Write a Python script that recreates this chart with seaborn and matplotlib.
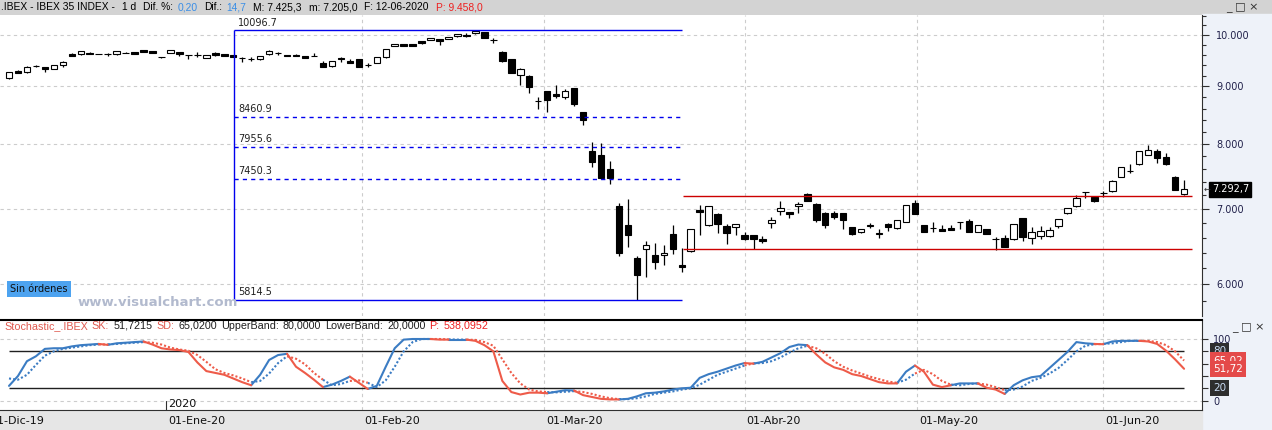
import numpy as np
import pandas as pd
import matplotlib
matplotlib.use("Agg")
import matplotlib.pyplot as plt
import seaborn as sns
from matplotlib.patches import Rectangle
from matplotlib.ticker import FixedLocator, FuncFormatter, NullFormatter

sns.set_style("white")
plt.rcParams["font.family"] = ["DejaVu Sans"]

W, H = 1272, 430

# trading calendar (Madrid exchange holidays removed)
holidays = ["2019-12-25", "2019-12-26", "2020-01-01", "2020-04-10", "2020-04-13", "2020-05-01"]
all_days = pd.bdate_range("2019-11-25", "2020-06-12")
all_days = all_days[~all_days.isin(pd.to_datetime(holidays))]
first_day = pd.Timestamp("2019-12-04")
start = int(np.where(all_days == first_day)[0][0])
dates = all_days[start:]

# IBEX 35 daily candles
opens = [9151, 9283, 9264, 9375, 9359, 9321, 9404, 9612, 9612, 9637,
         9620, 9610, 9612, 9645, 9652, 9691, 9671, 9560, 9631, 9652,
         9600, 9602, 9540, 9637, 9612, 9598, 9547, 9518, 9514, 9612,
         9645, 9604, 9604, 9578, 9580, 9449, 9390, 9546, 9482, 9520,
         9400, 9449, 9552, 9771, 9817, 9817, 9872, 9892, 9912, 9912,
         9973, 10000, 10035, 10055, 9888, 9657, 9515, 9207, 9194, 8730,
         8916, 8861, 8812, 8965, 8536, 7885, 7820, 7600, 7044, 6775,
         6333, 6447, 6368, 6370, 6648, 6242, 6429, 6987, 6779, 6926,
         6755, 6743, 6638, 6638, 6584, 6807, 6978, 6958, 7050, 7215,
         7074, 6945, 6945, 6941, 6743, 6684, 6765, 6656, 6789, 6729,
         6821, 7084, 6771, 6733, 6725, 6735, 6815, 6830, 6680, 6717,
         6578, 6598, 6580, 6869, 6599, 6620, 6620, 6765, 6940, 7040,
         7247, 7175, 7234, 7260, 7480, 7562, 7673, 7821, 7885, 7784,
         7480, 7220]
highs = [9270, 9314, 9375, 9404, 9362, 9408, 9472, 9643, 9675, 9663,
         9625, 9637, 9675, 9650, 9656, 9695, 9675, 9562, 9695, 9664,
         9602, 9652, 9602, 9664, 9616, 9602, 9550, 9552, 9582, 9697,
         9648, 9608, 9610, 9582, 9631, 9476, 9480, 9550, 9514, 9525,
         9437, 9562, 9715, 9821, 9821, 9821, 9876, 9936, 9916, 9957,
         10018, 10035, 10096.7, 10060, 9945, 9677, 9520, 9346, 9212, 8812,
         8920, 9020, 8947, 8970, 8540, 8027, 8011, 7725, 7088, 7147,
         6363, 6554, 6527, 6505, 6775, 6465, 6720, 7055, 7045, 6945,
         6790, 6790, 6675, 6642, 6629, 6883, 7113, 6962, 7107, 7230,
         7093, 6963, 6977, 6945, 6747, 6721, 6799, 6721, 6799, 6845,
         7060, 7132, 6775, 6813, 6775, 6770, 6817, 6855, 6781, 6721,
         6607, 6633, 6789, 6873, 6751, 6757, 6751, 6860, 7015, 7205,
         7250, 7180, 7265, 7423, 7630, 7672, 7884, 7982, 7913, 7857,
         7484, 7425.3]
lows = [9145, 9250, 9260, 9372, 9264, 9318, 9371, 9575, 9608, 9620,
        9610, 9584, 9608, 9638, 9620, 9660, 9628, 9540, 9628, 9584,
        9520, 9558, 9535, 9578, 9580, 9555, 9468, 9488, 9510, 9608,
        9598, 9574, 9572, 9535, 9574, 9365, 9366, 9468, 9445, 9367,
        9371, 9445, 9548, 9767, 9779, 9779, 9817, 9888, 9803, 9908,
        9969, 9968, 10030, 9940, 9837, 9468, 9250, 9031, 8885, 8597,
        8546, 8793, 8766, 8646, 8321, 7635, 7446, 7374, 6363, 6481,
        5814.5, 6095, 6187, 6240, 6389, 6158, 6416, 6643, 6765, 6670,
        6521, 6643, 6571, 6450, 6527, 6740, 6920, 6876, 6945, 7118,
        6813, 6740, 6855, 6725, 6644, 6666, 6729, 6593, 6687, 6725,
        6817, 6930, 6680, 6684, 6690, 6707, 6725, 6674, 6676, 6653,
        6438, 6477, 6576, 6562, 6515, 6588, 6616, 6737, 6936, 7036,
        7157, 7109, 7182, 7256, 7476, 7543, 7669, 7817, 7698, 7657,
        7275, 7205.0]
closes = [9264, 9257, 9371, 9380, 9333, 9404, 9468, 9578, 9671, 9624,
          9616, 9614, 9671, 9641, 9624, 9664, 9631, 9555, 9691, 9618,
          9596, 9606, 9598, 9598, 9584, 9558, 9543, 9522, 9578, 9677,
          9641, 9578, 9578, 9540, 9576, 9371, 9476, 9520, 9449, 9371,
          9404, 9558, 9711, 9817, 9783, 9783, 9843, 9932, 9884, 9953,
          10014, 9973, 10082, 9945, 9892, 9487, 9257, 9321, 8994, 8738,
          8758, 8830, 8916, 8687, 8397, 7714, 7465, 7455, 6402, 6643,
          6120, 6500, 6285, 6400, 6454, 6221, 6717, 6954, 7040, 6793,
          6670, 6785, 6589, 6589, 6558, 6845, 7015, 6930, 7078, 7122,
          6845, 6779, 6894, 6849, 6648, 6717, 6769, 6660, 6741, 6841,
          7055, 6934, 6684, 6737, 6694, 6711, 6811, 6684, 6777, 6657,
          6582, 6481, 6785, 6615, 6684, 6694, 6707, 6855, 7011, 7164,
          7243, 7113, 7238, 7419, 7626, 7566, 7880, 7896, 7768, 7678,
          7278, 7292.7]

# stochastic %K (solid) and %D (dotted)
sk = [24, 40, 64, 72, 84, 85, 85, 88, 90, 91,
      92, 90.5, 93, 94, 95, 96, 91, 85, 83, 82,
      79, 62, 48, 45, 42, 36, 30, 25, 42, 66,
      74, 76, 55, 45, 34, 22, 26, 32, 39, 29,
      19, 24, 55, 85, 99, 100, 100, 100, 99, 99,
      99, 99, 97, 90, 80, 32, 14, 10, 13, 13,
      12, 14.5, 17, 16.5, 9, 6, 3, 2, 2, 3,
      7, 12, 13, 15, 18, 20, 21, 37, 43, 47,
      52, 57, 61, 60, 63, 70, 77, 87, 91, 90,
      75, 62, 54, 50, 43, 40, 35, 30, 28, 28,
      47, 57, 47, 26, 22, 25, 28, 28, 28, 21,
      18, 11, 25, 33, 38, 40, 53, 66, 79, 95,
      93, 92, 91.5, 96, 97, 97, 97, 96, 92, 81,
      67, 51.72]
sd = [36, 34, 42, 58, 73, 80, 84, 86, 88, 90,
      91, 91.3, 92, 93, 94, 95, 94, 91, 86, 83,
      81, 74, 63, 51, 45, 41, 36, 30, 32, 44,
      61, 72, 68, 59, 45, 34, 25, 27, 32, 33,
      29, 22, 33, 55, 80, 95, 100, 100, 100, 99.5,
      99, 99, 98.5, 95, 89, 67, 45, 28, 18, 15,
      14, 13.5, 14.5, 15.5, 14, 11, 7, 4, 2.5, 2.5,
      4, 7, 11, 13, 15, 18, 20, 26, 34, 42,
      47, 52, 57, 60.5, 61, 64, 70, 78, 85, 89,
      85, 76, 64, 55, 49, 44, 39, 35, 31, 29,
      34, 44, 50, 43, 32, 26, 25, 27, 28, 26,
      22, 17, 18, 23, 32, 37, 44, 53, 66, 80,
      89, 91.5, 92, 93, 95, 97, 97, 97, 95, 90,
      80, 65.02]

fib_levels = [10096.7, 8460.9, 7955.6, 7450.3, 5814.5]
fib_span = (25.1, 75.0)
sr_levels = [7195, 6450]
sr_span = (75.1, 131.9)

month_names = {12: "Dic", 1: "Ene", 2: "Feb", 3: "Mar", 4: "Abr", 5: "May", 6: "Jun"}

# ---------------------------------------------------------------
n = len(closes)
x = np.arange(n)
O, Hh, L, C = map(np.asarray, (opens, highs, lows, closes))

day_ord = np.array([d.toordinal() for d in all_days])
month_starts = pd.date_range("2019-12-01", "2020-06-01", freq="MS")
month_pos = np.interp([m.toordinal() for m in month_starts], day_ord,
                      np.arange(len(all_days)) - start)
month_lbl = [f"01-{month_names[m.month]}-{m.strftime('%y')}" for m in month_starts]
grid_pos = month_pos[2:]   # Feb .. Jun
jan_pos = month_pos[1]


def rect(x0, y0, x1, y1):
    return [x0 / W, 1 - y1 / H, (x1 - x0) / W, (y1 - y0) / H]


fig = plt.figure(figsize=(W / 100, H / 100), dpi=100)
fig.patch.set_facecolor("white")
fig.add_artist(Rectangle((0, 1 - 14 / H), 1, 14 / H, transform=fig.transFigure,
                         color="#d3d3d3", zorder=-1))
fig.add_artist(Rectangle((1202 / W, 0), 70 / W, 1 - 14 / H, transform=fig.transFigure,
                         color="#eef2f9", zorder=-1))
fig.add_artist(Rectangle((0, 0), 1202 / W, 20 / H, transform=fig.transFigure,
                         color="#e6e6e6", zorder=-1))

XLIM = (-1.003, 133.0)
dark = "#303030"
navy = "#20204a"

# ---------------- price panel ----------------
ax = fig.add_axes(rect(0, 15, 1202, 316))
ax.set_facecolor("white")
ax.set_yscale("log")

for lv in [6000, 7000, 8000, 9000, 10000]:
    ax.axhline(lv, color="#cccccc", lw=0.8, ls=(0, (3, 3)), zorder=1)
for p in grid_pos:
    ax.axvline(p, color="#cccccc", lw=0.8, ls=(0, (3, 3)), zorder=1)

up = C >= O
ax.vlines(x, L, Hh, color="black", lw=0.9, zorder=3)
ax.bar(x, np.abs(C - O), bottom=np.minimum(O, C), width=0.72,
       color=np.where(up, "white", "black"), edgecolor="black", linewidth=0.8, zorder=4)

# fibonacci retracement
fib_blue = "#0000ee"
ax.vlines(fib_span[0], fib_levels[-1], fib_levels[0], color=fib_blue, lw=1.0, zorder=5)
for k, lv in enumerate(fib_levels):
    ls = "-" if k in (0, len(fib_levels) - 1) else (0, (3, 3))
    ax.hlines(lv, fib_span[0], fib_span[1], color=fib_blue, lw=1.0, ls=ls, zorder=5)
    ax.annotate(f"{lv:.1f}", (fib_span[0], lv), xytext=(3, 2), textcoords="offset points",
                ha="left", va="bottom", fontsize=7, color="#202020")

ax.hlines(sr_levels, sr_span[0], sr_span[1], color="#cc0000", lw=1.0, zorder=5)

ax.yaxis.tick_right()
ax.yaxis.set_major_locator(FixedLocator([6000, 7000, 8000, 9000, 10000]))
ax.yaxis.set_major_formatter(FuncFormatter(lambda v, _: f"{v:,.0f}".replace(",", ".")))
ax.yaxis.set_minor_locator(FixedLocator(np.arange(5800, 10401, 200)))
ax.yaxis.set_minor_formatter(NullFormatter())
ax.tick_params(axis="y", which="major", length=5, width=0.8, color=dark,
               labelcolor=navy, labelsize=7, pad=5)
ax.tick_params(axis="y", which="minor", length=3, width=0.8, color=dark)
ax.set_xticks([])
for s in ["top", "left", "bottom"]:
    ax.spines[s].set_visible(False)
ax.spines["right"].set_color(dark)
ax.set_xlim(*XLIM)
ax.set_ylim(5623, 10418)

ax.annotate("7.292,7", xy=(1, closes[-1]), xycoords=("axes fraction", "data"),
            xytext=(7, 0), textcoords="offset points", ha="left", va="center",
            fontsize=7, color="white",
            bbox=dict(boxstyle="square,pad=0.25", fc="black", ec="black"))
ax.annotate("←", xy=(1, closes[-1]), xycoords=("axes fraction", "data"),
            xytext=(1, 0), textcoords="offset points", ha="left", va="center",
            fontsize=6, color=dark)

fig.text(10 / W, 1 - 289 / H, "Sin órdenes", fontsize=7, color="#101010", va="center",
         bbox=dict(boxstyle="square,pad=0.35", fc="#4da3f0", ec="none"))
fig.text(78 / W, 1 - 303 / H, "www.visualchart.com", fontsize=9.5, fontweight="bold",
         color="#b2bace", va="center")

# ---------------- stochastic panel ----------------
ax2 = fig.add_axes(rect(0, 320, 1202, 410))
ax2.set_facecolor("white")

for lv in [0, 100]:
    ax2.axhline(lv, color="#cccccc", lw=0.8, ls=(0, (3, 3)), zorder=1)
for p in grid_pos:
    ax2.axvline(p, color="#cccccc", lw=0.8, ls=(0, (3, 3)), zorder=1)
ax2.hlines([80, 20], 0, n - 1, color="#202020", lw=1.0, zorder=2)

state = np.where(np.asarray(sk) >= np.asarray(sd), "up", "down")
rows = []
run = 0
k = 1
while k < n:
    j = k
    while j + 1 < n and state[j + 1] == state[k]:
        j += 1
    for name, vals in (("SK", sk), ("SD", sd)):
        for i in range(k - 1, j + 1):
            rows.append({"idx": i, "value": vals[i], "line": name,
                         "state": state[k], "key": f"{name}{run}"})
    run += 1
    k = j + 1
stoch = pd.DataFrame(rows)
sns.lineplot(data=stoch, x="idx", y="value", hue="state", style="line", units="key",
             estimator=None, palette={"up": "#3b7cc3", "down": "#ee5b49"},
             dashes={"SK": "", "SD": (1, 1)}, linewidth=1.5, legend=False, ax=ax2, zorder=3)
ax2.set_xlabel("")
ax2.set_ylabel("")

ax2.yaxis.tick_right()
ax2.set_yticks([0, 20, 40, 60, 80, 100])
ax2.set_yticklabels(["0", "", "", "", "", "100"])
ax2.tick_params(axis="y", length=4, width=0.8, color=dark, labelcolor=navy,
                labelsize=7, pad=4)
ax2.set_xticks(month_pos)
ax2.set_xticklabels([])
ax2.tick_params(axis="x", length=7, width=0.8, color=dark, direction="out")
ax2.spines["left"].set_visible(False)
ax2.spines["top"].set_color("black")
ax2.spines["top"].set_linewidth(1.5)
ax2.spines["bottom"].set_color(dark)
ax2.spines["right"].set_color(dark)
# limits last: set_xticks widens the view to include the December tick
ax2.set_xlim(*XLIM)
ax2.set_ylim(-15.1, 130.8)

for p, lbl in zip(month_pos, month_lbl):
    ax2.annotate(lbl, xy=(p, 0), xycoords=("data", "axes fraction"), xytext=(1.5, -4),
                 textcoords="offset points", ha="left", va="top", fontsize=8,
                 color="#101010", annotation_clip=False)
ax2.axvline(jan_pos, ymin=0, ymax=9 / 90, color=dark, lw=0.8)
ax2.annotate("2020", xy=(jan_pos, 0), xycoords=("data", "axes fraction"), xytext=(1.5, 1),
             textcoords="offset points", ha="left", va="bottom", fontsize=8, color="#101010")

boxes = [(80, "80", "#2e2e2e", "#c8daf2"), (sd[-1], "65,02", "#e44a4a", "white"),
         (sk[-1], "51,72", "#e44a4a", "white"), (20, "20", "#2e2e2e", "#c8daf2")]
for v, t, fc, tc in boxes:
    ax2.annotate(t, xy=(1, v), xycoords=("axes fraction", "data"), xytext=(8, 0),
                 textcoords="offset points", ha="left", va="center", fontsize=7.5,
                 color=tc, annotation_clip=False,
                 bbox=dict(boxstyle="square,pad=0.3", fc=fc, ec="none"))


# ---------------- header texts ----------------
def header(y, x0, x1, parts):
    # lay the coloured pieces one after another and fit them between x0 and x1
    r = fig.canvas.get_renderer()
    texts = [fig.text(0, 1 - y / H, t, color=c, fontsize=7, family="Liberation Sans",
                      va="center", ha="left") for t, c, g in parts]
    gaps = sum(g for _, _, g in parts)
    width = sum(t.get_window_extent(r).width for t in texts)
    size = 7 * (x1 - x0 - gaps) / width
    xp = x0
    for t, (_, _, g) in zip(texts, parts):
        t.set_fontsize(size)
        t.set_x(xp / W)
        xp += t.get_window_extent(r).width + g


blue_t, red_t, red_s, ink = "#3a8ee6", "#ee2020", "#e05a50", "#202020"
header(7, 1, 480, [(".IBEX - IBEX 35 INDEX -", "black", 7), ("1 d", "black", 7),
                   ("Dif. %:", "black", 4), ("0,20", blue_t, 7), ("Dif.:", "black", 4),
                   ("14,7", blue_t, 7), ("M: 7.425,3", "black", 7),
                   ("m: 7.205,0", "black", 7), ("F: 12-06-2020", "black", 7),
                   ("P: 9.458,0", red_t, 0)])
header(326, 4, 487, [("Stochastic_.IBEX", red_s, 4), ("SK:", red_s, 4), ("51,7215", ink, 4),
                     ("SD:", red_s, 4), ("65,0200", ink, 4), ("UpperBand:", ink, 4),
                     ("80,0000", ink, 4), ("LowerBand:", ink, 4), ("20,0000", ink, 4),
                     ("P:", red_t, 4), ("538,0952", red_t, 0)])
fig.text(1226 / W, 1 - 7 / H, "_ □ ×", fontsize=8, color=dark, va="center")
fig.text(1232 / W, 1 - 327 / H, "_ □ ×", fontsize=8, color=dark, va="center")

fig.savefig("out.png", dpi=100, facecolor=fig.get_facecolor())
